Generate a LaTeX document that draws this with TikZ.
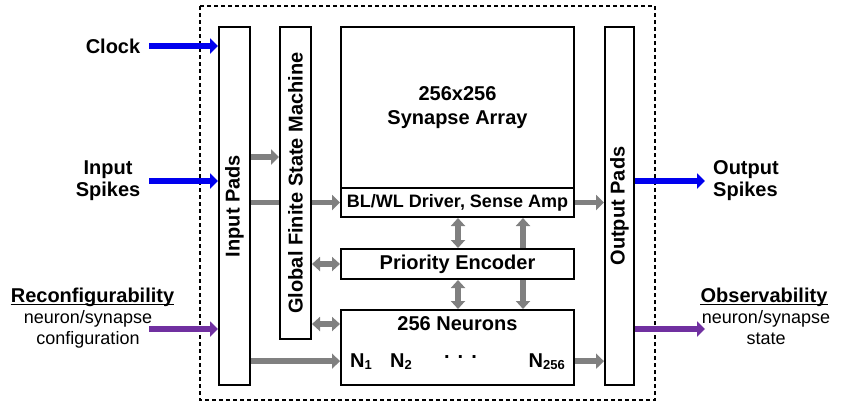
\documentclass[tikz,border=0pt]{standalone}
\usepackage{fontspec}
\setmainfont{Liberation Sans}
\usetikzlibrary{arrows.meta,backgrounds}
\definecolor{ctlblue}{RGB}{0,0,238}
\definecolor{cfgpurple}{RGB}{112,48,160}
\definecolor{busgrey}{RGB}{128,128,128}
\newcommand{\nrn}[1]{N\raisebox{-2pt}{\fontsize{13}{15}\selectfont #1}}

\begin{document}
\begin{tikzpicture}[x=1pt,y=-1pt,
  blk/.style={draw, line width=2pt, fill=white, inner sep=0pt},
  txt/.style={inner sep=0pt, font=\fontsize{20}{22}\selectfont\bfseries},
  smalltxt/.style={inner sep=0pt, font=\fontsize{18}{21}\selectfont},
  bus/.style={draw=busgrey, line width=5.5pt, -{Triangle[length=8pt,width=15pt]}},
  busboth/.style={draw=busgrey, line width=5.5pt, {Triangle[length=8pt,width=14pt]}-{Triangle[length=8pt,width=14pt]}},
  ctl/.style={draw=ctlblue, line width=5.5pt, -{Triangle[length=8pt,width=15pt]}},
  cfg/.style={draw=cfgpurple, line width=5.5pt, -{Triangle[length=8pt,width=15pt]}}]
  \useasboundingbox (0,0) rectangle (842,408);
  \draw [line width=2pt, dash pattern=on 4pt off 3pt] (200,6) rectangle (655,400);

  \node [blk, minimum width=31pt, minimum height=358pt] (inpads) at (234.5,206) {};
  \node [blk, minimum width=31pt, minimum height=312pt] (gfsm) at (295.5,183) {};
  \node [blk, minimum width=29pt, minimum height=358pt] (outpads) at (619.5,206) {};
  \node [txt, rotate=90] (inpadstxt) at (inpads) {Input Pads};
  \node [txt, rotate=90] (gfsmtxt) at (gfsm) {Global Finite State Machine};
  \node [txt, rotate=90] (outpadstxt) at (outpads) {Output Pads};

  \node [blk, font=\fontsize{20}{24}\selectfont\bfseries, align=center, minimum width=233pt, minimum height=161pt] (syn) at (457.5,107.5) {256x256\\Synapse Array};
  \node [blk, font=\fontsize{18}{21}\selectfont\bfseries, minimum width=233pt, minimum height=29pt] (blwl) at (457.5,202.5) {BL/WL Driver, Sense Amp};
  \node [blk, txt, minimum width=233pt, minimum height=30pt] (prio) at (457.5,264) {Priority Encoder};
  \node [blk, minimum width=233pt, minimum height=75pt] (neurons) at (457.5,347.5) {};
  \node [txt] (neutitle) at (457.5,324) {256 Neurons};
  \node [txt, anchor=base west] (n1) at (350,367) {\nrn{1}};
  \node [txt, anchor=base west] (n2) at (390,367) {\nrn{2}};
  \node [txt] (ndots) at (460.5,357) {.\hspace{8pt}.\hspace{8pt}.};
  \node [txt, anchor=base east] (n256) at (565,367) {\nrn{256}};

  \node [txt] (clock) at (113,46) {Clock};
  \node [txt, align=center] (inspk) at (108,181) {Input\\Spikes};
  \node [txt, anchor=base] (reconf) at (92.5,302) {Reconfigurability};
  \node [smalltxt, align=center] (cfgtxt) at (88,329) {neuron/synapse\\configuration};
  \node [txt, align=left, anchor=west] (outspk) at (713,181) {Output\\Spikes};
  \node [txt, anchor=base] (observ) at (764,302) {Observability};
  \node [smalltxt, align=center] (statetxt) at (766,328) {neuron/synapse\\state};
  \draw [line width=1.6pt] ([yshift=-2.5pt]reconf.base west) -- ([yshift=-2.5pt]reconf.base east);
  \draw [line width=1.6pt] ([yshift=-2.5pt]observ.base west) -- ([yshift=-2.5pt]observ.base east);

  \coordinate (cfgin) at (149,329);
  \coordinate (obsout) at (705,329);
  \coordinate (fsmbus) at (0,157);
  \coordinate (vcola) at (458,0);
  \coordinate (vcolb) at (523,0);

  \draw [ctl] ([xshift=9pt]clock.east) -- (clock.east -| inpads.west);
  \draw [ctl] ([xshift=9pt]inspk.east) -- (inspk.east -| inpads.west);
  \draw [cfg] (cfgin) -- (cfgin -| inpads.west);
  \draw [ctl] (outpads.east |- outspk.west) -- ([xshift=-8pt]outspk.west);
  \draw [cfg] (outpads.east |- obsout) -- (obsout);

  \begin{scope}[on background layer]
    \draw [bus] (inpads.east |- blwl) -- (blwl.west);
    \draw [busboth] (blwl.south -| vcolb) -- (neurons.north -| vcolb);
  \end{scope}
  \draw [bus] (inpads.east |- fsmbus) -- (gfsm.west |- fsmbus);
  \draw [bus] (blwl.east) -- (outpads.west |- blwl);
  \draw [busboth] (gfsm.east |- prio) -- (prio.west);
  \draw [busboth] (gfsm.east |- neutitle) -- (neurons.west |- neutitle);
  \draw [bus] (inpads.east |- n1) -- (neurons.west |- n1);
  \draw [bus] (neurons.east |- n256) -- (outpads.west |- n256);
  \draw [busboth] (blwl.south -| vcola) -- (prio.north -| vcola);
  \draw [busboth] (prio.south -| vcola) -- (neurons.north -| vcola);
\end{tikzpicture}
\end{document}
